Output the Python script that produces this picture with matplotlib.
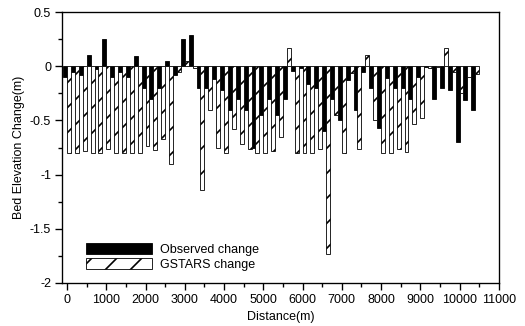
import numpy as np
import matplotlib
matplotlib.use("Agg")
import matplotlib.pyplot as plt
from matplotlib.ticker import MultipleLocator

plt.rcParams['font.family'] = ['Liberation Sans', 'DejaVu Sans']
plt.rcParams['hatch.linewidth'] = 1.6

# stations along the reach (m)
distance = np.arange(0, 10600, 200)

observed = [-0.10, -0.05, -0.08, 0.10, -0.03, 0.25, -0.10, -0.05, -0.10, 0.09,
            -0.20, -0.30, -0.20, 0.05, -0.08, 0.25, 0.29, -0.20, -0.20, -0.12,
            -0.22, -0.40, -0.30, -0.40, -0.75, -0.45, -0.30, -0.45, -0.30, -0.04,
            -0.02, -0.16, -0.20, -0.60, -0.30, -0.50, -0.13, -0.40, -0.05, -0.20,
            -0.57, -0.11, -0.20, -0.20, -0.30, -0.10, -0.01, -0.30, -0.20, -0.22,
            -0.70, -0.31, -0.40]

gstars = [-0.80, -0.80, -0.78, -0.80, -0.80, -0.76, -0.80, -0.80, -0.80, -0.80,
          -0.74, -0.77, -0.67, -0.90, -0.05, 0.05, -0.02, -1.14, -0.40, -0.75,
          -0.80, -0.58, -0.72, -0.76, -0.80, -0.80, -0.78, -0.65, 0.17, -0.80,
          -0.80, -0.80, -0.76, -1.73, -0.45, -0.80, -0.06, -0.76, 0.10, -0.50,
          -0.80, -0.80, -0.76, -0.79, -0.53, -0.48, -0.02, -0.01, 0.17, -0.05,
          -0.25, -0.10, -0.07]

# drawn at 75 dpi so the hatch spacing comes out like the scan
fig = plt.figure(figsize=(7.0, 326 / 75), dpi=75)
ax = fig.add_axes([0.118, 0.132, 0.832, 0.831])

ax.bar(distance - 50, observed, width=100, color='black', edgecolor='black',
       linewidth=0.8, label='Observed change')
ax.bar(distance + 50, gstars, width=100, color='white', edgecolor='black',
       linewidth=0.8, hatch='/', label='GSTARS change')

ax.set_xlim(-130, 11000)
ax.set_ylim(-2, 0.5)
ax.xaxis.set_major_locator(MultipleLocator(1000))
ax.xaxis.set_minor_locator(MultipleLocator(500))
ax.yaxis.set_minor_locator(MultipleLocator(0.25))
ax.set_yticks([0.5, 0, -0.5, -1, -1.5, -2])
ax.set_yticklabels(['0.5', '0', '-0.5', '-1', '-1.5', '-2'])
ax.tick_params(which='major', direction='out', length=7, width=1.3, labelsize=12)
ax.tick_params(which='minor', direction='out', length=4, width=1.3)

for s in ax.spines.values():
    s.set_linewidth(1.3)

ax.set_xlabel('Distance(m)', fontsize=12, labelpad=5)
ax.set_ylabel('Bed Elevation Change(m)', fontsize=12, labelpad=5)

ax.legend(loc='lower left', bbox_to_anchor=(0.055, 0.045), frameon=False,
          fontsize=12, handlelength=5.3, handleheight=0.9, labelspacing=0.2,
          handletextpad=0.6, borderpad=0, borderaxespad=0)

fig.savefig('out.png', dpi=75)
